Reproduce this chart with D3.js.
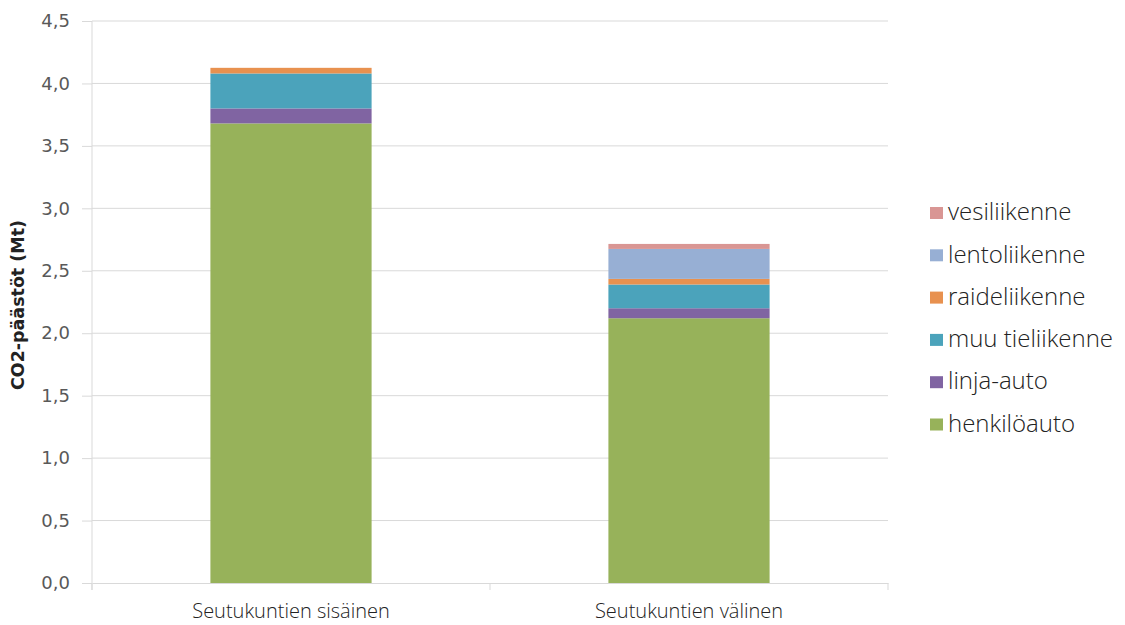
<!DOCTYPE html>
<html>
<head>
<meta charset="utf-8">
<script src="https://cdn.jsdelivr.net/npm/d3@7"></script>
<style>
  html, body { margin: 0; padding: 0; background: #fff; }
  svg { display: block; }
</style>
</head>
<body>
<svg id="chart" width="1125" height="625"></svg>
<script>
// CO2 emissions of transport (Mt), by trip type
const categories = ["Seutukuntien sisäinen", "Seutukuntien välinen"];
const seriesNames = ["henkilöauto", "linja-auto", "muu tieliikenne", "raideliikenne", "lentoliikenne", "vesiliikenne"];
const henkiloauto = [3.68, 2.12];
const linjaAuto = [0.12, 0.08];
const muuTieliikenne = [0.28, 0.19];
const raideliikenne = [0.045, 0.045];
const lentoliikenne = [0.0, 0.24];
const vesiliikenne = [0.0, 0.04];
const yTicks = [0, 0.5, 1.0, 1.5, 2.0, 2.5, 3.0, 3.5, 4.0, 4.5];
const colors = ["#97B25A", "#8064A2", "#4BA3BB", "#E8914F", "#97AFD4", "#D99694"];

const seriesValues = [henkiloauto, linjaAuto, muuTieliikenne, raideliikenne, lentoliikenne, vesiliikenne];
const rows = categories.map((c, i) => {
  const r = { category: c };
  seriesNames.forEach((s, j) => { r[s] = seriesValues[j][i]; });
  return r;
});

const svg = d3.select("#chart");
const m = { left: 92, right: 888, top: 21, bottom: 583 };

const x = d3.scaleBand().domain(categories).range([m.left, m.right]).paddingInner(0).paddingOuter(0);
const y = d3.scaleLinear().domain([0, 4.5]).range([m.bottom, m.top]);

const fmt = d => d3.format(".1f")(d).replace(".", ",");

// gridlines
svg.append("g").selectAll("line").data(yTicks.filter(d => d > 0)).join("line")
  .attr("x1", m.left).attr("x2", m.right)
  .attr("y1", d => y(d)).attr("y2", d => y(d))
  .attr("stroke", "#d9d9d9").attr("stroke-width", 1);

// stacked bars
const stack = d3.stack().keys(seriesNames)(rows);
const barW = x.bandwidth() * 0.405;
svg.append("g").selectAll("g").data(stack).join("g")
  .attr("fill", (d, i) => colors[i])
  .selectAll("rect").data(d => d).join("rect")
  .attr("x", d => x(d.data.category) + (x.bandwidth() - barW) / 2)
  .attr("width", barW)
  .attr("y", d => y(d[1]))
  .attr("height", d => y(d[0]) - y(d[1]));

// y axis
const yAxis = d3.axisLeft(y).tickValues(yTicks).tickFormat(fmt).tickSize(10).tickPadding(12);
const ya = svg.append("g").attr("transform", `translate(${m.left},0)`).call(yAxis);
ya.select(".domain").attr("stroke", "#d9d9d9").attr("d", `M-0,${m.top}V${m.bottom + 7}`);
ya.selectAll(".tick line").attr("stroke", "#d9d9d9");
ya.selectAll(".tick text")
  .attr("fill", "#595959").style("font-family", "DejaVu Sans, Verdana, sans-serif").style("font-size", "18px");

// x axis
const xa = svg.append("g").attr("transform", `translate(0,${m.bottom})`)
  .call(d3.axisBottom(x).tickSize(0).tickPadding(21));
xa.select(".domain").attr("stroke", "#d9d9d9");
xa.selectAll(".tick text").attr("fill", "#222")
  .style("font-family", "Open Sans, sans-serif").style("font-size", "20px").style("font-weight", "300");
svg.append("g").selectAll("line").data([m.left, (m.left + m.right) / 2, m.right]).join("line")
  .attr("x1", d => d).attr("x2", d => d).attr("y1", m.bottom).attr("y2", m.bottom + 7)
  .attr("stroke", "#d9d9d9");

// y axis title, sized to span about 170px along the axis
const title = svg.append("text")
  .attr("transform", `translate(29,305) rotate(-90)`)
  .attr("text-anchor", "middle")
  .style("font-family", "DejaVu Sans, Verdana, sans-serif").style("font-size", "15px").style("font-weight", "bold")
  .attr("fill", "#222")
  .text("CO2-päästöt (Mt)");
const len = title.node().getComputedTextLength();
if (len > 0) {
  const fs = Math.min(18, 15 * 170 / len);
  title.style("font-size", fs + "px")
    .attr("transform", `translate(${17 + fs * 0.4},305) rotate(-90)`);
}

// legend (top item is the last series)
const legendItems = seriesNames.map((s, i) => ({ name: s, color: colors[i] })).reverse();
const lg = svg.append("g").selectAll("g").data(legendItems).join("g")
  .attr("transform", (d, i) => `translate(930,${213 + i * 42.3})`);
lg.append("rect").attr("x", 0).attr("y", -6).attr("width", 13).attr("height", 12).attr("fill", d => d.color);
lg.append("text").attr("x", 18).attr("y", 0).attr("dy", "0.3em")
  .style("font-family", "Open Sans, sans-serif").style("font-size", "24px").style("font-weight", "300")
  .attr("fill", "#222").text(d => d.name);
</script>
</body>
</html>
